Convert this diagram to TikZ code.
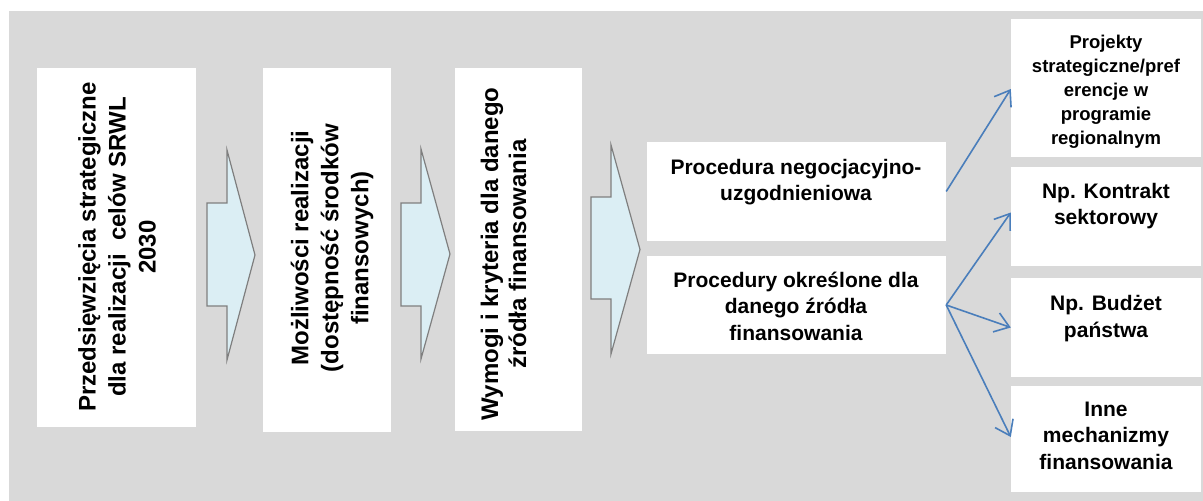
\documentclass[tikz,border=0pt]{standalone}
\usepackage{fontspec}
\setmainfont{Liberation Sans}
\usetikzlibrary{arrows.meta,calc}
\definecolor{bggray}{HTML}{D9D9D9}
\definecolor{arrowfill}{HTML}{DBEEF4}
\definecolor{arrowline}{HTML}{7F7F7F}
\definecolor{conblue}{HTML}{4A7EBB}
\tikzset{
  whitebox/.style={fill=white, draw=none, inner sep=0pt},
  blockarrow/.style={fill=arrowfill, draw=arrowline, line width=1.2pt, line join=miter},
  conn/.style={draw=conblue, line width=1.6pt, -{Straight Barb[length=14pt,width=20pt,line width=1.6pt]}},
  vtext/.style={rotate=90, align=center, font=\bfseries\fontsize{24}{30}\selectfont, inner sep=0pt},
  htext/.style={align=center, font=\bfseries\fontsize{21}{26.5}\selectfont, inner sep=0pt},
}
\begin{document}
\begin{tikzpicture}[x=1pt,y=-1pt]
\useasboundingbox (0,0) rectangle (1203,501);
\fill[bggray] (9,11) rectangle (1203,501);

% white boxes
\node[whitebox, minimum width=159pt, minimum height=359pt] (b1) at (116.5,247.5) {};
\node[whitebox, minimum width=128pt, minimum height=364pt] (b2) at (327,250) {};
\node[whitebox, minimum width=127pt, minimum height=363pt] (b3) at (518.5,249.5) {};
\node[whitebox, minimum width=299pt, minimum height=99pt] (pa) at (796.5,191.5) {};
\node[whitebox, minimum width=299pt, minimum height=98pt] (pb) at (796.5,305) {};
\node[whitebox, minimum width=190pt, minimum height=138pt] (r1) at (1106,88) {};
\node[whitebox, minimum width=190pt, minimum height=99pt] (r2) at (1106,216.5) {};
\node[whitebox, minimum width=190pt, minimum height=99pt] (r3) at (1106,327.5) {};
\node[whitebox, minimum width=190pt, minimum height=106pt] (r4) at (1106,439) {};

% block arrows
\draw[blockarrow] (207,203) -- (227,203) -- (227,150) -- (255,255) -- (227,360) -- (227,306) -- (207,306) -- cycle;
\draw[blockarrow] (401,203) -- (421,203) -- (421,149) -- (450,254) -- (421,359) -- (421,306) -- (401,306) -- cycle;
\draw[blockarrow] (591,197) -- (611,197) -- (611,145) -- (640,249.5) -- (611,354) -- (611,299) -- (591,299) -- cycle;

% texts
\node[vtext] (t1) at (117,247) {Przedsięwzięcia strategiczne\\dla realizacji\ \ celów SRWL\\2030};
\node[vtext] (t2) at (332,248) {Możliwości realizacji\\(dostępność środków\\finansowych)};
\node[vtext, font=\bfseries\fontsize{24}{28}\selectfont] (t3) at (503.5,254) {Wymogi i kryteria dla danego\\źródła finansowania};
\node[htext] (ta) at (796,182) {Procedura negocjacyjno-\\uzgodnieniowa};
\node[htext] (tb) at (796,306) {Procedury określone dla\\danego źródła\\finansowania};
\node[htext, font=\bfseries\fontsize{18.5}{24}\selectfont] (tr1) at (1106,92) {Projekty\\strategiczne/pref\\erencje w\\programie\\regionalnym};
\node[htext] (tr2) at (1106,206) {Np. Kontrakt\\sektorowy};
\node[htext] (tr3) at (1106,318.5) {Np. Budżet\\państwa};
\node[htext] (tr4) at (1106,435.5) {Inne\\mechanizmy\\finansowania};

% connectors
\draw[conn] (pa.east) -- ($(r1.west)+(0,1)$);
\draw[conn] (pb.east) -- ($(r2.west)+(0,-4)$);
\draw[conn] (pb.east) -- (r3.west);
\draw[conn] (pb.east) -- ($(r4.west)+(0,-2)$);
\end{tikzpicture}
\end{document}
